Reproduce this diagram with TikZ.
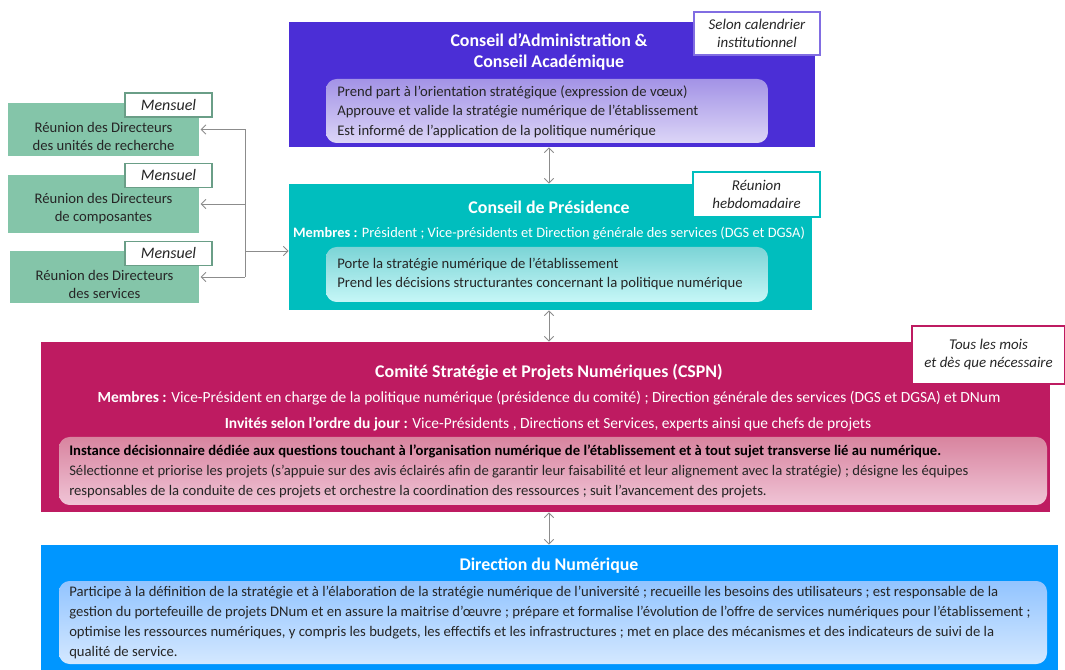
\documentclass[tikz,border=0pt]{standalone}
\usepackage{fontspec}
\setmainfont{Carlito}
\usetikzlibrary{arrows.meta,positioning}
\definecolor{caviolet}{HTML}{4B2ED6}
\definecolor{cahaut}{HTML}{A393E6}
\definecolor{cabas}{HTML}{DCD5F7}
\definecolor{prturq}{HTML}{00BEBE}
\definecolor{prhaut}{HTML}{7CD4D6}
\definecolor{prbas}{HTML}{C6F7F7}
\definecolor{csrose}{HTML}{BE1B61}
\definecolor{cshaut}{HTML}{D8849F}
\definecolor{csbas}{HTML}{F0C4D6}
\definecolor{dnbleu}{HTML}{0096FF}
\definecolor{dnhaut}{HTML}{92C4FF}
\definecolor{dnbas}{HTML}{D4E8FF}
\definecolor{reuvert}{HTML}{84C5A9}
\definecolor{fgris}{HTML}{8C8C8C}
\definecolor{textgris}{HTML}{262626}
\tikzstyle{bloc} = [rectangle, inner sep=0pt]
\tikzstyle{cadre} = [rectangle, rounded corners=8pt, inner sep=0pt]
\tikzstyle{etiq} = [rectangle, fill=white, line width=0.8pt, inner sep=0pt, font=\fontsize{11.2}{13.5}\selectfont\itshape, align=center, text=textgris]
\tikzstyle{titre} = [text=white, inner sep=0pt, font=\fontsize{13.4}{15.75}\selectfont\bfseries, align=center]
\tikzstyle{membres} = [text=white, inner sep=0pt, align=center]
\tikzstyle{texte} = [anchor=west, align=left, text=textgris, inner sep=0pt, font=\fontsize{11}{14.6}\selectfont]
\tikzstyle{fleche} = [draw=fgris, line width=0.7pt, >={Straight Barb[length=3.5pt,width=7pt]}]

\begin{document}
\begin{tikzpicture}[x=0.75pt, y=-0.75pt]
\useasboundingbox (0,0) rectangle (1065,670);
% conseils
\node (ca) [bloc, fill=caviolet, minimum width=394.5pt, minimum height=93.75pt] at (552,84.5) {};
\node (caBody) [cadre, top color=cahaut, bottom color=cabas, minimum width=331.5pt, minimum height=48pt] at (547,111) {};
\node (caTitre) [titre] at (549,51.5) {Conseil d’Administration \&\\Conseil Académique};
\node (caTxt) [texte] at (337,111.5) {Prend part à l’orientation stratégique (expression de vœux)\\Approuve et valide la stratégie numérique de l’établissement\\Est informé de l’application de la politique numérique};
\node (caFreq) [etiq, draw=caviolet!70, minimum width=94.5pt, minimum height=32.25pt] at (757,33.5) {Selon calendrier\\institutionnel};

\node (pres) [bloc, fill=prturq, minimum width=392.25pt, minimum height=94.5pt] at (550.5,247) {};
\node (presBody) [cadre, top color=prhaut, bottom color=prbas, minimum width=331.5pt, minimum height=41.25pt] at (547,274.5) {};
\node (presTitre) [titre] at (549,207) {Conseil de Présidence};
\node (presMembres) [membres, font=\fontsize{10.8}{12}\selectfont] at (549,233) {\textbf{Membres :} Président ; Vice-présidents et Direction générale des services (DGS et DGSA)};
\node (presTxt) [texte, font=\fontsize{11}{14.25}\selectfont] at (337,274.5) {Porte la stratégie numérique de l’établissement\\Prend les décisions structurantes concernant la politique numérique};
\node (presFreq) [etiq, draw=prturq, minimum width=95.25pt, minimum height=33.75pt] at (756.5,194.5) {Réunion\\hebdomadaire};

\node (cspn) [bloc, fill=csrose, minimum width=756.75pt, minimum height=127.5pt] at (545.5,427) {};
\node (cspnBody) [cadre, top color=cshaut, bottom color=csbas, minimum width=741pt, minimum height=51pt] at (553,471) {};
\node (cspnTitre) [titre] at (549,372) {Comité Stratégie et Projets Numériques (CSPN)};
\node (cspnMembres) [membres, font=\fontsize{11.6}{13}\selectfont] at (549,398) {\textbf{Membres :} Vice-Président en charge de la politique numérique (présidence du comité) ; Direction générale des services (DGS et DGSA) et DNum};
\node (cspnInvites) [membres, font=\fontsize{11.6}{13}\selectfont] at (548,424) {\textbf{Invités selon l’ordre du jour :} Vice-Présidents , Directions et Services, experts ainsi que chefs de projets};
\node (cspnTxt) [texte, font=\fontsize{11}{15}\selectfont] at (69,471) {\textbf{\color{black}Instance décisionnaire dédiée aux questions touchant à l’organisation numérique de l’établissement et à tout sujet transverse lié au numérique.}\\Sélectionne et priorise les projets (s’appuie sur des avis éclairés afin de garantir leur faisabilité et leur alignement avec la stratégie) ; désigne les équipes\\responsables de la conduite de ces projets et orchestre la coordination des ressources ; suit l’avancement des projets.};
\node (cspnFreq) [etiq, draw=csrose, minimum width=114.75pt, minimum height=43.5pt] at (988.5,355) {Tous les mois\\et dès que nécessaire};

\node (dnum) [bloc, fill=dnbleu, minimum width=762.75pt, minimum height=97.5pt] at (549.5,610) {};
\node (dnumBody) [cadre, top color=dnhaut, bottom color=dnbas, minimum width=741pt, minimum height=62.25pt] at (553,622.5) {};
\node (dnumTitre) [titre] at (549,566) {Direction du Numérique};
\node (dnumTxt) [texte, font=\fontsize{11}{15}\selectfont] at (69,623) {Participe à la définition de la stratégie et à l’élaboration de la stratégie numérique de l’université ; recueille les besoins des utilisateurs ; est responsable de la\\gestion du portefeuille de projets DNum et en assure la maitrise d’œuvre ; prépare et formalise l’évolution de l’offre de services numériques pour l’établissement ;\\optimise les ressources numériques, y compris les budgets, les effectifs et les infrastructures ; met en place des mécanismes et des indicateurs de suivi de la\\qualité de service.};

% reunions
\node (reuRech) [bloc, fill=reuvert, minimum width=143.25pt, minimum height=39.75pt] at (103.5,129.5) {};
\node (reuComp) [bloc, fill=reuvert, minimum width=143.25pt, minimum height=43.5pt] at (103.5,204) {};
\node (reuServ) [bloc, fill=reuvert, minimum width=141.75pt, minimum height=39pt] at (104.5,277) {};
\node (reuRechTxt) [membres, text=textgris, font=\fontsize{11}{13.5}\selectfont] at (103.5,136) {Réunion des Directeurs\\des unités de recherche};
\node (reuCompTxt) [membres, text=textgris, font=\fontsize{11}{13.5}\selectfont] at (103.5,208.5) {Réunion des Directeurs\\de composantes};
\node (reuServTxt) [membres, text=textgris, font=\fontsize{11}{13.5}\selectfont] at (104.5,284) {Réunion des Directeurs\\des services};
\node (mens1) [etiq, draw=reuvert!80!black, font=\fontsize{12}{13.5}\selectfont\itshape, minimum width=65.25pt, minimum height=18pt] at (168.5,105) {Mensuel};
\node (mens2) [etiq, draw=reuvert!80!black, font=\fontsize{12}{13.5}\selectfont\itshape, minimum width=65.25pt, minimum height=18pt] at (168.5,175.5) {Mensuel};
\node (mens3) [etiq, draw=reuvert!80!black, font=\fontsize{12}{13.5}\selectfont\itshape, minimum width=65.25pt, minimum height=18pt] at (168.5,253.5) {Mensuel};

% liaisons
\coordinate (axe) at (549,0);
\coordinate (bus) at (245,0);
\coordinate (jonction) at (245,251);
\draw [fleche, <->] (ca.south -| axe) -- (pres.north -| axe);
\draw [fleche, <->] (pres.south -| axe) -- (cspn.north -| axe);
\draw [fleche, <->] (cspn.south -| axe) -- (dnum.north -| axe);
\draw [fleche] (reuRech.east -| bus) -- (reuServ.east -| bus);
\draw [fleche, ->] (bus |- reuRech.east) -- ([xshift=1pt]reuRech.east);
\draw [fleche, ->] (bus |- reuComp.east) -- ([xshift=1pt]reuComp.east);
\draw [fleche, ->] (bus |- reuServ.east) -- ([xshift=1pt]reuServ.east);
\draw [fleche, ->] (jonction) -- (jonction -| pres.west);
\end{tikzpicture}
\end{document}
